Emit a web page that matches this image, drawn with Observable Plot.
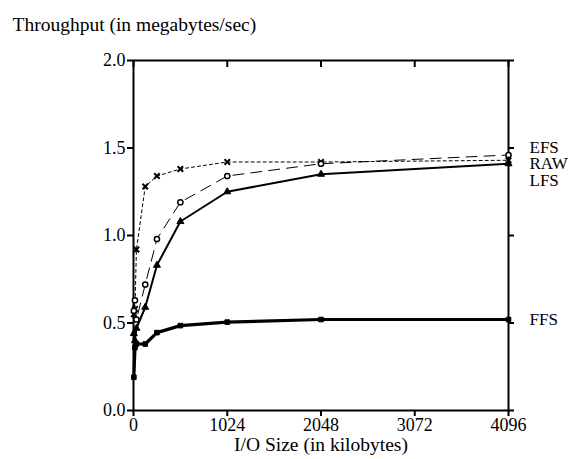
<!DOCTYPE html>
<html>
<head>
<meta charset="utf-8">
<script src="https://cdn.jsdelivr.net/npm/d3@7"></script>
<script src="https://cdn.jsdelivr.net/npm/@observablehq/plot@0.6"></script>
<style>
  html, body { margin: 0; padding: 0; background: #fff; }
  svg, svg text { font-family: "Liberation Serif", "Times New Roman", serif !important; }
</style>
</head>
<body>
<div id="chart"></div>
<script>
// I/O sizes in kilobytes
const sizes = [4, 16, 32, 128, 256, 512, 1024, 2048, 4096];
// Throughput (MB/sec) per file system
const efs = [0.55, 0.58, 0.92, 1.28, 1.34, 1.38, 1.42, 1.42, 1.43];
const raw = [0.57, 0.63, 0.52, 0.72, 0.98, 1.19, 1.34, 1.41, 1.46];
const lfs = [0.44, 0.40, 0.47, 0.59, 0.83, 1.08, 1.25, 1.35, 1.41];
const ffs = [0.19, 0.36, 0.38, 0.38, 0.445, 0.485, 0.505, 0.52, 0.52];
const seriesNames = ["EFS", "RAW", "LFS", "FFS"];
const labelY = [1.50, 1.41, 1.315, 0.52];
const xTicks = [0, 1024, 2048, 3072, 4096];
const yTicks = [0, 0.5, 1.0, 1.5, 2.0];

const seriesValues = [efs, raw, lfs, ffs];
const styles = {
  EFS: {dash: "3,3", width: 1, symbol: "times", fill: "none", r: 2.6, sw: 2},
  RAW: {dash: "11,7", width: 1, symbol: "circle", fill: "white", r: 2.6, sw: 1.5},
  LFS: {dash: null, width: 2, symbol: "triangle", fill: "black", r: 2.6, sw: 1},
  FFS: {dash: null, width: 3.2, symbol: "square", fill: "black", r: 2.6, sw: 1}
};
const tables = seriesNames.map((name, i) =>
  sizes.map((s, j) => ({name, size: s, value: seriesValues[i][j]})));

const marks = [];
tables.forEach((t) => {
  const st = styles[t[0].name];
  marks.push(Plot.line(t, {x: "size", y: "value", stroke: "black",
    strokeWidth: st.width, strokeDasharray: st.dash}));
});
tables.forEach((t) => {
  const st = styles[t[0].name];
  marks.push(Plot.dot(t, {x: "size", y: "value", symbol: () => st.symbol, r: st.r,
    stroke: "black", strokeWidth: st.sw, fill: st.fill}));
});

const labels = seriesNames.map((n, i) => ({name: n, y: labelY[i]}));

const chart = Plot.plot({
  width: 574,
  height: 459,
  marginLeft: 133,
  marginRight: 66,
  marginTop: 60,
  marginBottom: 49,
  style: {fontSize: "18px", color: "black", background: "white"},
  x: {domain: [0, 4096]},
  y: {domain: [0, 2]},
  symbol: {type: "identity"},
  marks: [
    Plot.axisX({anchor: "bottom", ticks: xTicks, tickSize: 6, tickPadding: 2, tickFormat: d3.format("d"), label: null, fontSize: 18, strokeWidth: 2}),
    Plot.axisX({anchor: "top", ticks: xTicks, tickSize: -6, tickFormat: () => "", label: null, strokeWidth: 2}),
    Plot.axisY({anchor: "left", ticks: yTicks, tickSize: 6, tickPadding: 2, tickFormat: d3.format(".1f"), label: null, fontSize: 18, strokeWidth: 2}),
    Plot.axisY({anchor: "right", ticks: yTicks, tickSize: 5, tickFormat: () => "", label: null, strokeWidth: 2}),
    Plot.frame({stroke: "black", strokeWidth: 2}),
    ...marks,
    Plot.text(labels, {x: 4096, y: "y", text: "name", textAnchor: "start", dx: 21, fontSize: 17, fill: "black"}),
    Plot.text(["Throughput (in megabytes/sec)"], {frameAnchor: "top-left", dx: -121, dy: -43, textAnchor: "start", fontSize: 19.5, fill: "black"}),
    Plot.text(["I/O Size (in kilobytes)"], {frameAnchor: "bottom", dy: 40, fontSize: 19.5, fill: "black"})
  ]
});
document.getElementById("chart").appendChild(chart);
</script>
</body>
</html>
